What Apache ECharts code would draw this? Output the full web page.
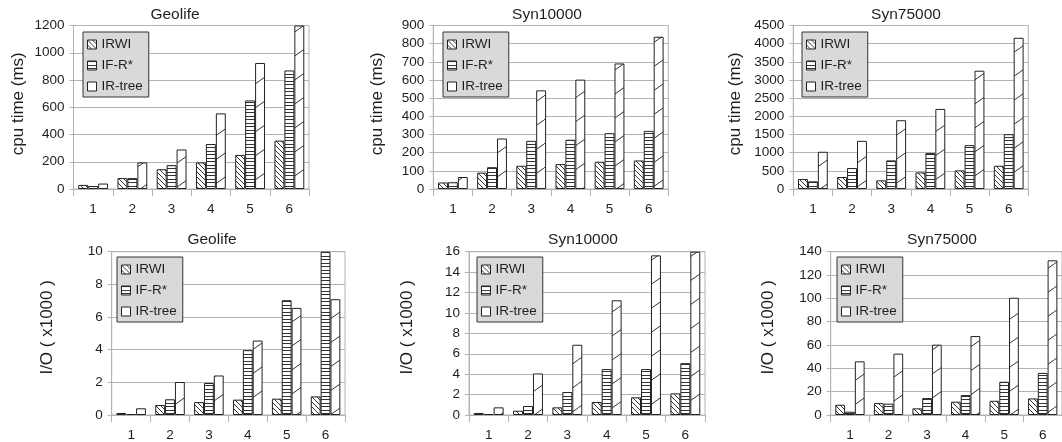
<!DOCTYPE html>
<html>
<head>
<meta charset="utf-8">
<script src="https://cdn.jsdelivr.net/npm/echarts@6/dist/echarts.min.js"></script>
<style>
  html, body { margin: 0; padding: 0; background: #fff; }
  #chart { width: 1062px; height: 442px; }
</style>
</head>
<body>
<div id="chart"></div>
<script>
// Query sizes on the x axis
const categories = ['1', '2', '3', '4', '5', '6'];
const methodNames = ['IRWI', 'IF-R*', 'IR-tree'];

// CPU time (ms)
const geolifeCpuIRWI   = [30, 80, 145, 195, 250, 355];
const geolifeCpuIFR    = [22, 80, 175, 330, 650, 870];
const geolifeCpuIRtree = [40, 195, 290, 555, 925, 1200];

const syn10000CpuIRWI   = [36, 90, 128, 137, 150, 157];
const syn10000CpuIFR    = [37, 120, 265, 271, 307, 320];
const syn10000CpuIRtree = [66, 278, 543, 602, 691, 838];

const syn75000CpuIRWI   = [274, 330, 238, 457, 512, 640];
const syn75000CpuIFR    = [210, 576, 787, 988, 1207, 1509];
const syn75000CpuIRtree = [1024, 1326, 1893, 2204, 3256, 4162];

// I/O (x1000)
const geolifeIoIRWI   = [0.12, 0.61, 0.79, 0.94, 1.0, 1.14];
const geolifeIoIFR    = [0.06, 0.96, 1.96, 3.97, 7.03, 10];
const geolifeIoIRtree = [0.41, 2.02, 2.42, 4.56, 6.56, 7.09];

const syn10000IoIRWI   = [0.2, 0.42, 0.75, 1.27, 1.73, 2.12];
const syn10000IoIFR    = [0.1, 0.88, 2.25, 4.5, 4.5, 5.08];
const syn10000IoIRtree = [0.75, 4.07, 6.88, 11.24, 15.64, 16];

const syn75000IoIRWI   = [8.8, 10.2, 5.7, 11.4, 12.2, 14.2];
const syn75000IoIFR    = [2.8, 9.7, 14.5, 17.1, 28.5, 36.1];
const syn75000IoIRtree = [46, 52.6, 60.3, 67.7, 100.5, 132.6];

// Y axis titles
const cpuTitle = 'cpu time (ms)';
const ioTitle = 'I/O ( x1000 )';

const panels = [
  { title: 'Geolife',  yName: cpuTitle, max: 1200, interval: 200, data: [geolifeCpuIRWI, geolifeCpuIFR, geolifeCpuIRtree],
    grid: { left: 73.5, top: 25.5, width: 235.5, height: 163.5 }, titleX: 175, titleY: 7, nameGap: 47, nameShift: 7, legend: { left: 83, top: 32 } },
  { title: 'Syn10000', yName: cpuTitle, max: 900, interval: 100, data: [syn10000CpuIRWI, syn10000CpuIFR, syn10000CpuIRtree],
    grid: { left: 433.3, top: 25.5, width: 235, height: 163.5 }, titleX: 547, titleY: 7, nameGap: 47, nameShift: 7, legend: { left: 443, top: 32 } },
  { title: 'Syn75000', yName: cpuTitle, max: 4500, interval: 500, data: [syn75000CpuIRWI, syn75000CpuIFR, syn75000CpuIRtree],
    grid: { left: 793.3, top: 25.5, width: 235, height: 163.5 }, titleX: 906, titleY: 7, nameGap: 49, nameShift: 7, legend: { left: 802, top: 32 } },
  { title: 'Geolife',  yName: ioTitle, max: 10, interval: 2, data: [geolifeIoIRWI, geolifeIoIFR, geolifeIoIRtree],
    grid: { left: 111.7, top: 251.7, width: 233.3, height: 163.7 }, titleX: 212, titleY: 232, nameGap: 56, nameShift: 12, legend: { left: 117, top: 257 } },
  { title: 'Syn10000', yName: ioTitle, max: 16, interval: 2, data: [syn10000IoIRWI, syn10000IoIFR, syn10000IoIRtree],
    grid: { left: 469, top: 251.7, width: 236, height: 163.7 }, titleX: 583, titleY: 232, nameGap: 53, nameShift: 12, legend: { left: 477, top: 257 } },
  { title: 'Syn75000', yName: ioTitle, max: 140, interval: 20, data: [syn75000IoIRWI, syn75000IoIFR, syn75000IoIRtree],
    grid: { left: 830.7, top: 251.7, width: 234, height: 163.7 }, titleX: 942, titleY: 232, nameGap: 54, nameShift: 12, legend: { left: 837, top: 257 } }
];

const FONT = '"Liberation Sans", Arial, sans-serif';
const INK = '#1e1e1e';
const GRID_GRAY = '#b3b3b3';

// Hatch fills drawn into small repeating canvas tiles
function makeTile(w, h, draw) {
  const c = document.createElement('canvas');
  c.width = w; c.height = h;
  const ctx = c.getContext('2d');
  ctx.fillStyle = '#fff';
  ctx.fillRect(0, 0, w, h);
  draw(ctx, w, h);
  return { image: c, repeat: 'repeat' };
}
const backslashFill = makeTile(5, 5, (ctx, w) => {
  ctx.fillStyle = '#333';
  for (let i = 0; i < w; i++) ctx.fillRect(i, i, 1, 1);
});
const horizontalFill = makeTile(4, 7, (ctx, w) => {
  ctx.fillStyle = '#333';
  ctx.fillRect(0, 0, w, 1);
  ctx.fillRect(0, 4, w, 1);
});
const slashFill = makeTile(34, 24, (ctx, w, h) => {
  ctx.strokeStyle = '#333';
  ctx.lineWidth = 1;
  ctx.beginPath();
  ctx.moveTo(0, h);
  ctx.lineTo(w, 0);
  ctx.stroke();
});
const fills = [backslashFill, horizontalFill, slashFill];

const option = {
  animation: false,
  backgroundColor: '#fff',
  textStyle: { fontFamily: FONT },
  title: [], grid: [], xAxis: [], yAxis: [], legend: [], series: []
};

panels.forEach((p, i) => {
  option.title.push({
    text: p.title, left: p.titleX, top: p.titleY, textAlign: 'center', padding: 0,
    textStyle: { fontFamily: FONT, fontSize: 15.5, fontWeight: 'normal', color: INK }
  });
  option.grid.push(Object.assign({ show: true, borderColor: GRID_GRAY, borderWidth: 1, backgroundColor: 'transparent' }, p.grid));
  option.xAxis.push({
    type: 'category', gridIndex: i, data: categories,
    axisLine: { lineStyle: { color: GRID_GRAY, width: 1 } },
    axisTick: { show: true, length: 7, lineStyle: { color: GRID_GRAY } },
    axisLabel: { fontFamily: FONT, fontSize: 13.5, color: INK, margin: 13 },
    splitLine: { show: false }
  });
  option.yAxis.push({
    type: 'value', gridIndex: i, min: 0, max: p.max, interval: p.interval,
    name: p.yName, nameLocation: 'middle', nameGap: p.nameGap,
    nameTextStyle: { fontFamily: FONT, fontSize: 17, color: INK, padding: [0, 0, 0, p.nameShift] },
    axisLine: { show: true, lineStyle: { color: GRID_GRAY, width: 1 } },
    axisTick: { show: true, length: 4, lineStyle: { color: GRID_GRAY } },
    axisLabel: { fontFamily: FONT, fontSize: 13.5, color: INK, margin: 9, formatter: v => String(v) },
    splitLine: { show: true, lineStyle: { color: GRID_GRAY, width: 1 } }
  });
  option.legend.push({
    data: methodNames, orient: 'vertical', left: p.legend.left, top: p.legend.top,
    backgroundColor: '#d9d9d9', borderColor: '#333', borderWidth: 1, borderRadius: 0,
    padding: [5, 6, 3, 4], itemGap: 6, itemWidth: 9, itemHeight: 9, icon: 'rect',
    selectedMode: false,
    itemStyle: { borderColor: '#222', borderWidth: 1 },
    textStyle: { fontFamily: FONT, fontSize: 13.5, color: INK, lineHeight: 15 }
  });
  methodNames.forEach((name, k) => {
    option.series.push({
      type: 'bar', name: name, xAxisIndex: i, yAxisIndex: i, data: p.data[k],
      barGap: '0%', barCategoryGap: '24%',
      itemStyle: { color: fills[k], borderColor: '#222', borderWidth: 1 },
      emphasis: { disabled: true }
    });
  });
});

const chart = echarts.init(document.getElementById('chart'), null, { renderer: 'canvas' });
chart.setOption(option);
</script>
</body>
</html>
